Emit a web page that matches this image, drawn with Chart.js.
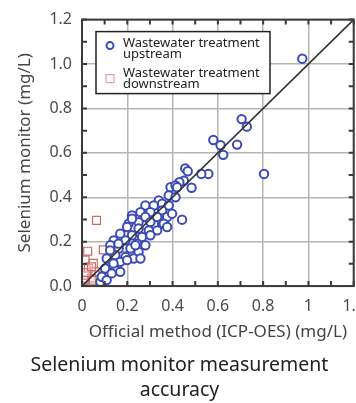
<!DOCTYPE html>
<html>
<head>
<meta charset="utf-8">
<script src="https://cdn.jsdelivr.net/npm/chart.js@4/dist/chart.umd.min.js"></script>
<style>
  html, body { margin: 0; padding: 0; background: #fff; overflow: hidden; }
  #wrap { width: 376px; height: 403px; position: relative; }
</style>
</head>
<body>
<div id="wrap"><canvas id="chart"></canvas></div>
<script>
// ─── Data ─────────────────────────────────────────────────────────────────

const xTickLabels = ['0', '0.2', '0.4', '0.6', '0.8', '1', '1.2'];
const yTickLabels = ['0.0', '0.2', '0.4', '0.6', '0.8', '1.0', '1.2'];

const seriesNames = [
  ['Wastewater treatment', 'upstream'],
  ['Wastewater treatment', 'downstream'],
];

// [official method, selenium monitor] in mg/L
const upstream = [
  [0.973, 1.024], [0.705, 0.752], [0.728, 0.718], [0.580, 0.658], [0.612, 0.634],
  [0.624, 0.591], [0.685, 0.637], [0.804, 0.505], [0.558, 0.505], [0.527, 0.505],
  [0.456, 0.530], [0.467, 0.517], [0.450, 0.475], [0.430, 0.468], [0.484, 0.443],
  [0.391, 0.445], [0.413, 0.453], [0.383, 0.408], [0.413, 0.400], [0.442, 0.299],
  [0.339, 0.386], [0.354, 0.371], [0.383, 0.363], [0.280, 0.363], [0.317, 0.363],
  [0.258, 0.333], [0.302, 0.333], [0.354, 0.341], [0.221, 0.318], [0.280, 0.311],
  [0.332, 0.311], [0.376, 0.311], [0.250, 0.288], [0.302, 0.288], [0.354, 0.281],
  [0.206, 0.281], [0.221, 0.303], [0.199, 0.266], [0.250, 0.259], [0.295, 0.251],
  [0.332, 0.251], [0.169, 0.236], [0.221, 0.229], [0.265, 0.221], [0.302, 0.229],
  [0.140, 0.206], [0.192, 0.206], [0.243, 0.191], [0.280, 0.184], [0.125, 0.184],
  [0.162, 0.169], [0.214, 0.169], [0.250, 0.154], [0.147, 0.139], [0.192, 0.131],
  [0.228, 0.124], [0.258, 0.124], [0.169, 0.109], [0.118, 0.094], [0.147, 0.072],
  [0.103, 0.042], [0.081, 0.019], [0.161, 0.191], [0.124, 0.161], [0.109, 0.124],
  [0.139, 0.102], [0.102, 0.079], [0.131, 0.057], [0.087, 0.042], [0.109, 0.027],
  [0.169, 0.064], [0.199, 0.117], [0.236, 0.184], [0.420, 0.445], [0.361, 0.281],
  [0.398, 0.326], [0.376, 0.266],
];

const downstream = [
  [0.064, 0.296], [0.025, 0.157], [0.094, 0.163], [0.186, 0.172], [0.124, 0.109],
  [0.131, 0.064], [0.072, 0.049], [0.013, 0.117], [0.050, 0.102], [0.028, 0.079],
  [0.057, 0.064], [0.013, 0.049], [0.042, 0.035], [0.006, 0.012], [0.042, 0.004],
  [0.013, 0.027], [0.050, 0.027], [0.000, 0.000], [0.020, 0.060], [0.042, 0.087],
];

const identityLine = [[0, 0], [1.2, 1.2]];

// ─── Styles ───────────────────────────────────────────────────────────────

const BLUE = '#3a4cb4';
const RED = '#d06a6a';
const FONT = "'Noto Sans', 'DejaVu Sans', sans-serif";

const toXY = arr => arr.map(([x, y]) => ({ x, y }));

// frame, inward minor ticks and the inset legend
const framePlugin = {
  id: 'frame',
  afterDatasetsDraw(chart) {
    const { ctx, chartArea: a, scales: { x, y } } = chart;
    ctx.save();
    ctx.strokeStyle = '#3a3a3a';
    ctx.lineWidth = 2;
    ctx.strokeRect(a.left, a.top, a.right - a.left, a.bottom - a.top);
    ctx.beginPath();
    for (let i = 0; i <= 12; i++) {
      const v = i / 10;
      const px = x.getPixelForValue(v);
      const py = y.getPixelForValue(v);
      ctx.moveTo(px, a.bottom); ctx.lineTo(px, a.bottom - 5);
      ctx.moveTo(px, a.top); ctx.lineTo(px, a.top + 5);
      ctx.moveTo(a.left, py); ctx.lineTo(a.left + 5, py);
      ctx.moveTo(a.right, py); ctx.lineTo(a.right - 5, py);
    }
    ctx.stroke();

    // legend box
    const bx = a.left + 14, by = a.top + 12, bw = 174, bh = 62;
    ctx.fillStyle = '#fff';
    ctx.fillRect(bx, by, bw, bh);
    ctx.strokeStyle = '#222';
    ctx.lineWidth = 1.5;
    ctx.strokeRect(bx, by, bw, bh);

    ctx.font = `13px ${FONT}`;
    ctx.fillStyle = '#222';
    ctx.textBaseline = 'middle';
    seriesNames.forEach((lines, i) => {
      const top = by + 12 + i * 30;
      lines.forEach((t, j) => ctx.fillText(t, bx + 27, top + j * 10.5));
      ctx.lineWidth = i === 0 ? 2 : 1.2;
      ctx.strokeStyle = i === 0 ? BLUE : '#e0a6a6';
      ctx.beginPath();
      if (i === 0) ctx.arc(bx + 14, top + 2, 3.5, 0, Math.PI * 2);
      else ctx.rect(bx + 10, top + 1, 8, 8);
      ctx.stroke();
    });
    ctx.restore();
  },
};

const chart = new Chart(document.getElementById('chart'), {
  type: 'scatter',
  data: {
    datasets: [
      {
        label: 'identity',
        data: toXY(identityLine),
        showLine: true,
        borderColor: '#333',
        borderWidth: 1.6,
        pointRadius: 0,
        order: 0,
      },
      {
        label: seriesNames[0].join(' '),
        data: toXY(upstream),
        pointStyle: 'circle',
        pointRadius: 4.2,
        borderWidth: 2,
        borderColor: BLUE,
        backgroundColor: '#fff',
        order: 1,
      },
      {
        label: seriesNames[1].join(' '),
        data: toXY(downstream),
        pointStyle: 'rect',
        pointRadius: 5.6,
        borderWidth: 1.2,
        borderColor: RED,
        backgroundColor: 'rgba(255,255,255,0.3)',
        order: 2,
      },
    ],
  },
  options: {
    responsive: true,
    maintainAspectRatio: false,
    animation: false,
    layout: { padding: { left: 0, right: 17, top: 10, bottom: 0 } },
    plugins: {
      legend: { display: false },
      tooltip: { enabled: false },
      title: {
        display: true,
        position: 'bottom',
        text: ['Selenium monitor measurement', 'accuracy'],
        color: '#222',
        font: { family: FONT, size: 19.5, weight: 'normal', lineHeight: 1.28 },
        padding: { top: 4, bottom: 0 },
      },
    },
    scales: {
      x: {
        type: 'linear',
        min: 0, max: 1.2,
        afterFit: s => { s.height = 63; },
        grid: { color: '#b5b5b5', lineWidth: 1.5, drawTicks: false },
        border: { display: false },
        ticks: {
          stepSize: 0.2,
          padding: 11,
          color: '#4a4a4a',
          font: { family: FONT, size: 16 },
          callback: (v, i) => xTickLabels[i],
        },
        title: {
          display: true,
          text: 'Official method (ICP-OES) (mg/L)',
          color: '#444',
          font: { family: FONT, size: 17 },
          padding: { top: 0, bottom: 7 },
        },
      },
      y: {
        type: 'linear',
        min: 0, max: 1.2,
        afterFit: s => { s.width = 82; },
        grid: { color: '#b5b5b5', lineWidth: 1.5, drawTicks: false },
        border: { display: false },
        ticks: {
          stepSize: 0.2,
          padding: 10,
          color: '#4a4a4a',
          font: { family: FONT, size: 16 },
          callback: (v, i) => yTickLabels[i],
        },
        title: {
          display: true,
          text: 'Selenium monitor (mg/L)',
          color: '#444',
          font: { family: FONT, size: 17 },
          padding: { top: 15, bottom: 15 },
        },
      },
    },
  },
  plugins: [framePlugin],
});
</script>
</body>
</html>
